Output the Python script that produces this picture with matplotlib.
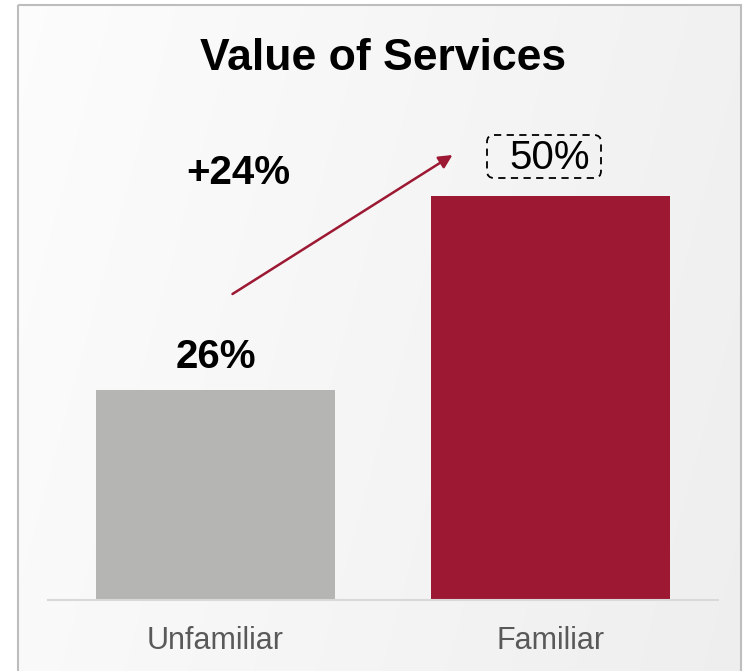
import matplotlib
matplotlib.use("Agg")
import matplotlib.pyplot as plt
import numpy as np
from matplotlib.patches import Rectangle, FancyBboxPatch

categories = ["Unfamiliar", "Familiar"]
values = [26, 50]
value_labels = ["26%", "50%"]
bar_colors = ["#b5b6b3", "#9c1833"]
title = "Value of Services"
change_label = "+24%"

W, H = 749, 671
fig = plt.figure(figsize=(W / 100, H / 100), dpi=100)

# background with gradient and frame
bg = fig.add_axes([0, 0, 1, 1])
bg.set_xlim(0, W)
bg.set_ylim(H, 0)
bg.axis("off")
xx = np.linspace(0, 1, 300)
yy = np.linspace(0, 1, 300)
X, Y = np.meshgrid(xx, yy)
g = 0.99 - 0.055 * (0.8 * X + 0.2 * Y)
img = np.dstack([g, g, g])
bg.imshow(img, extent=[18, 741, H, 5], aspect="auto", zorder=0)
bg.add_patch(Rectangle((18, 5), 723, H, fill=False, edgecolor="#bdbdbd", lw=1.5, zorder=1))
# dashed highlight box around the 50% label
bg.add_patch(FancyBboxPatch((490, 138), 108, 37, boxstyle="round,pad=3,rounding_size=7",
                            fc="none", ec="black", ls=(0, (4, 3)), lw=1.3, zorder=3))

# main axes (pixel-based placement)
left, right, top, bottom = 48, 718, 100, 600
ax = fig.add_axes([left / W, (H - bottom) / H, (right - left) / W, (bottom - top) / H])
ax.patch.set_alpha(0)
ppu = 210 / 26
ymax = (bottom - top) / ppu
ax.set_ylim(0, ymax)
ax.set_xlim(-0.5, 1.5)
x = np.arange(len(categories))
ax.bar(x, values, width=0.716, color=bar_colors, zorder=2)
for s in ["top", "right", "left"]:
    ax.spines[s].set_visible(False)
ax.spines["bottom"].set_color("#d9d9d9")
ax.spines["bottom"].set_linewidth(1.5)
ax.set_yticks([])
ax.set_xticks(x)
ax.set_xticklabels(categories, fontsize=22, color="#595959", family="Liberation Sans")
ax.tick_params(axis="x", length=0, pad=19)

def py2y(py):
    return (bottom - py) / ppu

def px2x(px):
    return (px - 215) / 335

# value labels
ax.text(x[0], py2y(357), value_labels[0], ha="center", va="center", fontsize=29,
        fontweight="bold", color="black", family="Liberation Sans")
ax.text(px2x(549), py2y(158), value_labels[1], ha="center", va="center", fontsize=29,
        color="black", family="Liberation Sans")

# arrow and change label
ax.annotate("", xy=(px2x(452), py2y(155)), xytext=(px2x(232), py2y(294)),
            arrowprops=dict(arrowstyle="-|>", color="#9c1833", lw=1.8, mutation_scale=20,
                            shrinkA=0, shrinkB=0))
ax.text(px2x(238), py2y(173), change_label, ha="center", va="center", fontsize=29,
        fontweight="bold", color="black", family="Liberation Sans")

fig.text(383 / W, 1 - 58 / H, title, ha="center", va="center", fontsize=32, fontweight="bold",
         color="black", family="Liberation Sans")

fig.savefig("out.png", dpi=100)
